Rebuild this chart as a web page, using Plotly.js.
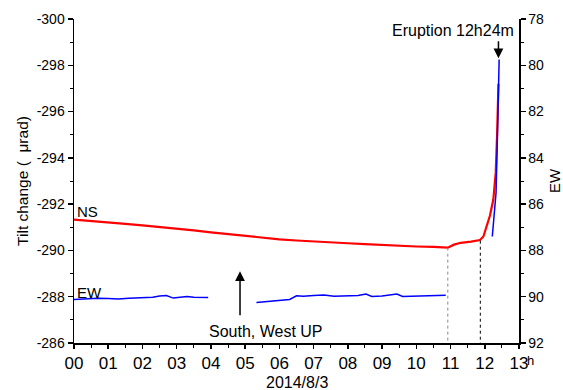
<!DOCTYPE html>
<html>
<head>
<meta charset="utf-8">
<script src="https://cdn.plot.ly/plotly-3.0.1.min.js"></script>
<style>html,body{margin:0;padding:0;background:#fff;}#chart{width:563px;height:390px;}</style>
</head>
<body>
<div id="chart"></div>
<script>
// NS tilt (left axis, µrad)
const nsTime = [0,0.5,1,1.5,2,2.5,3,3.5,4,4.5,5,5.5,6,6.5,7,7.5,8,8.5,9,9.5,10,10.5,10.92,11.1,11.3,11.6,11.86,11.96,12.05,12.15,12.25,12.32,12.36,12.40];
const nsValue = [-291.33,-291.28,-291.22,-291.15,-291.08,-291.02,-290.95,-290.87,-290.78,-290.70,-290.62,-290.55,-290.48,-290.43,-290.40,-290.36,-290.31,-290.27,-290.23,-290.20,-290.17,-290.15,-290.12,-290.25,-290.33,-290.38,-290.45,-290.6,-291.0,-291.5,-292.2,-293.35,-295.0,-297.2];
// EW tilt (right axis), null = gap in record
const ewTime = [0,0.3,0.7,1.0,1.3,1.6,2.0,2.3,2.5,2.7,2.9,3.1,3.3,3.5,3.92,4.5,
  5.33,5.6,5.9,6.1,6.3,6.5,6.7,7.0,7.3,7.6,8.0,8.3,8.53,8.7,9.0,9.2,9.43,9.6,10.0,10.5,10.86,11.5,
  12.22,12.27,12.33,12.37,12.42];
const ewValue = [90.12,90.09,90.07,90.08,90.10,90.07,90.05,90.02,89.97,89.95,90.06,90.01,89.99,90.02,90.03,null,
  90.25,90.22,90.19,90.16,90.12,89.96,89.98,89.95,89.93,89.98,89.97,89.95,89.88,89.99,89.97,89.92,89.88,89.99,89.97,89.95,89.94,null,
  87.4,86.6,85.5,83.0,79.75];
const hourLabels = ['00','01','02','03','04','05','06','07','08','09','10','11','12','13'];
const hourTicks = hourLabels.map((s,i)=>i);
const nsTicks = [-300,-298,-296,-294,-292,-290,-288,-286];
const nsTickLabels = ['-300','-298','-296','-294','-292','-290','-288','-286'];
const guideTimes = [10.92, 11.87];
const guideTops = [-290.12, -290.42];
const guideColors = ['#888888', '#000000'];

const font = 'Liberation Sans, Arial, sans-serif';
const traces = [
  {x: nsTime, y: nsValue, type: 'scatter', mode: 'lines', line: {color: '#ff0000', width: 2.2}, yaxis: 'y', hoverinfo: 'skip'},
  {x: ewTime, y: ewValue, type: 'scatter', mode: 'lines', line: {color: '#0000ff', width: 1.5}, yaxis: 'y2', connectgaps: false, hoverinfo: 'skip'}
];
const shapes = guideTimes.map((t,i)=>({type:'line', xref:'x', yref:'y', x0:t, x1:t, y0:guideTops[i], y1:-286,
  line:{color:guideColors[i], width:1, dash:'dot'}}));
const layout = {
  width: 563, height: 390,
  margin: {l: 74, r: 44, t: 19, b: 47},
  paper_bgcolor: '#fff', plot_bgcolor: '#fff',
  showlegend: false,
  font: {family: font, color: '#000'},
  xaxis: {range: [0, 13], tickvals: hourTicks, ticktext: hourLabels, showgrid: false, zeroline: false,
    showline: true, linecolor: '#000', linewidth: 1.5, ticks: 'outside', ticklen: 4, tickwidth: 1.5, tickcolor: '#000',
    tickfont: {size: 17}, minor: {dtick: 0.5, ticks: 'outside', ticklen: 3, tickwidth: 1, tickcolor: '#000'}},
  yaxis: {range: [-286, -300], tickvals: nsTicks, ticktext: nsTickLabels, showgrid: false, zeroline: false,
    showline: true, linecolor: '#000', linewidth: 1.5, ticks: 'outside', ticklen: 5, tickwidth: 1.5, tickcolor: '#000',
    tickfont: {size: 14}, minor: {dtick: 1, ticks: 'outside', ticklen: 3, tickwidth: 1, tickcolor: '#000'},
    title: {text: 'Tilt change (\u00a0\u00a0μrad)', font: {size: 15.5}, standoff: 4}},
  yaxis2: {range: [92, 78], dtick: 2, overlaying: 'y', side: 'right', showgrid: false, zeroline: false,
    showline: true, linecolor: '#000', linewidth: 1.5, ticks: 'outside', ticklen: 5, tickwidth: 1.5, tickcolor: '#000',
    tickfont: {size: 14}, minor: {dtick: 1, ticks: 'outside', ticklen: 3, tickwidth: 1, tickcolor: '#000'},
    title: {text: 'EW', font: {size: 15}, standoff: 10}},
  shapes: shapes,
  annotations: [
    {xref:'x', yref:'y', x:0.0, y:-291.7, text:'NS', showarrow:false, xanchor:'left', xshift:1, font:{size:15}},
    {xref:'x', yref:'y', x:0.0, y:-288.2, text:'EW', showarrow:false, xanchor:'left', xshift:1, font:{size:15}},
    {xref:'x', yref:'y', x:4.85, y:-289.1, ax:4.85, ay:-287.13, axref:'x', ayref:'y', text:'', showarrow:true,
      arrowhead:2, arrowsize:1.3, arrowwidth:1.5, arrowcolor:'#000'},
    {xref:'x', yref:'y', x:5.6, y:-286.5, text:'South, West UP', showarrow:false, font:{size:16}},
    {xref:'x', yref:'y', x:12.40, y:-298.3, ax:12.40, ay:-299.1, axref:'x', ayref:'y', text:'', showarrow:true,
      arrowhead:2, arrowsize:1.3, arrowwidth:1.5, arrowcolor:'#000'},
    {xref:'x', yref:'y', x:11.06, y:-299.5, text:'Eruption 12h24m', showarrow:false, font:{size:16}},
    {xref:'paper', yref:'paper', x:1, y:0, yanchor:'top', xanchor:'left', xshift:6, yshift:-8, text:'h', showarrow:false, font:{size:13}},
    {xref:'x', yref:'paper', x:6.5, y:0, yanchor:'middle', yshift:-39, text:'2014/8/3', showarrow:false, font:{size:16}}
  ]
};
Plotly.newPlot('chart', traces, layout, {staticPlot: true, displayModeBar: false});
</script>
</body>
</html>
